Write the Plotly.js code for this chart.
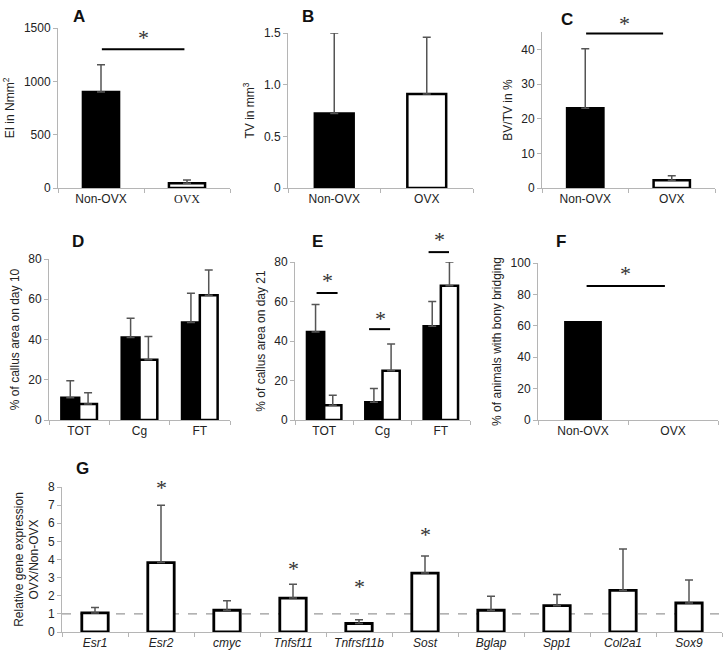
<!DOCTYPE html>
<html>
<head>
<meta charset="utf-8">
<script src="https://cdn.plot.ly/plotly-3.0.1.min.js"></script>
<style>html,body{margin:0;padding:0;background:#fff;}#chart{width:727px;height:662px;}</style>
</head>
<body>
<div id="chart"></div>
<script>
// ---------------- DATA ----------------
const groups = ['Non-OVX', 'OVX'];
const regions = ['TOT', 'Cg', 'FT'];
const genes = ['Esr1', 'Esr2', 'cmyc', 'Tnfsf11', 'Tnfrsf11b', 'Sost', 'Bglap', 'Spp1', 'Col2a1', 'Sox9'];

// A: EI in Nmm2
const eiMean = [900, 45];
const eiErr = [255, 30];
// B: TV in mm3
const tvMean = [0.72, 0.91];
const tvErr = [0.78, 0.55];
// C: BV/TV in %
const bvtvMean = [23, 2.2];
const bvtvErr = [17.2, 1.3];
// D: % callus area day 10
const d10NonOvx = [11, 41, 48.5];
const d10NonOvxErr = [8.5, 9.5, 14.5];
const d10Ovx = [8, 30, 62];
const d10OvxErr = [5.5, 11.5, 12.5];
// E: % callus area day 21
const d21NonOvx = [44.5, 9, 47.5];
const d21NonOvxErr = [14, 7, 12.5];
const d21Ovx = [7.5, 25, 68];
const d21OvxErr = [5, 13.5, 12];
// F: % animals with bony bridging
const bridging = [63, 0];
// G: relative gene expression OVX/Non-OVX
const geneExpr = [1.05, 3.83, 1.2, 1.87, 0.47, 3.25, 1.2, 1.45, 2.3, 1.6];
const geneErr = [0.3, 3.17, 0.53, 0.76, 0.21, 0.95, 0.77, 0.62, 2.28, 1.27];
const refLevel = 1;
const geneSignificant = ['Esr2', 'Tnfsf11', 'Tnfrsf11b', 'Sost'];
const geneStarLevel = [8.0, 3.5, 2.5, 5.4];

// significance brackets: [axis, from, to, lineLevel, starX, starLevel]
const sigA = [0.01, 0.97, 1300, 0.49, 1415];
const sigC = [0.01, 0.90, 44.6, 0.45, 47.5];
const sigE = [
  [-0.13, 0.23, 64.3, 0.05, 70.5],
  [1 - 0.23, 1 + 0.13, 46, 1 - 0.04, 51.5],
  [2 - 0.21, 2 + 0.14, 85, 2 - 0.03, 91.5]
];
const sigF = [0.04, 0.91, 85.4, 0.47, 93];

// ---------------- LAYOUT HELPERS ----------------
const W = 727, H = 662;
const dx = (a, b) => [a / W, b / W];
const dy = (top, bottom) => [1 - bottom / H, 1 - top / H];
const FONT = 'Liberation Sans, Arial, sans-serif';
const AX = '#b5b5b5';
const ERR = '#555555';

function xax(domain, anchor, ticktext, tickvals) {
  const o = {
    domain: domain, anchor: anchor, type: 'category',
    showline: true, linecolor: AX, linewidth: 1, mirror: false,
    ticks: 'outside', ticklen: 4, tickcolor: AX, tickson: 'boundaries',
    showgrid: false, zeroline: false, fixedrange: true,
    tickfont: {family: FONT, size: 12, color: '#222'}
  };
  if (ticktext) { o.tickmode = 'array'; o.tickvals = tickvals; o.ticktext = ticktext; }
  return o;
}
function yax(domain, anchor, range, tickvals, ticktext, title) {
  return {
    domain: domain, anchor: anchor, range: range,
    tickmode: 'array', tickvals: tickvals, ticktext: ticktext || tickvals.map(String),
    showline: true, linecolor: AX, linewidth: 1,
    ticks: 'outside', ticklen: 4, tickcolor: AX,
    showgrid: false, zeroline: false, fixedrange: true,
    tickfont: {family: FONT, size: 12, color: '#222'},
    title: {text: title, font: {family: FONT, size: 12, color: '#222'}, standoff: 6}
  };
}
function errBars(arr) {
  return {type: 'data', symmetric: false, array: arr, arrayminus: arr.map(() => 0),
          color: ERR, thickness: 1.5, width: 4};
}
const pairColors = ['#000000', '#ffffff'];

const traces = [
  {type: 'bar', x: groups, y: eiMean, xaxis: 'x', yaxis: 'y', width: 0.42,
   marker: {color: pairColors, line: {color: '#000', width: 2.5}}, error_y: errBars(eiErr)},
  {type: 'bar', x: groups, y: tvMean, xaxis: 'x2', yaxis: 'y2', width: 0.42,
   marker: {color: pairColors, line: {color: '#000', width: 2.5}}, error_y: errBars(tvErr)},
  {type: 'bar', x: groups, y: bvtvMean, xaxis: 'x3', yaxis: 'y3', width: 0.42,
   marker: {color: pairColors, line: {color: '#000', width: 2.5}}, error_y: errBars(bvtvErr)},
  {type: 'bar', x: regions, y: d10NonOvx, xaxis: 'x4', yaxis: 'y4', name: 'Non-OVX',
   marker: {color: '#000', line: {color: '#000', width: 2.5}}, error_y: errBars(d10NonOvxErr)},
  {type: 'bar', x: regions, y: d10Ovx, xaxis: 'x4', yaxis: 'y4', name: 'OVX',
   marker: {color: '#fff', line: {color: '#000', width: 2.5}}, error_y: errBars(d10OvxErr)},
  {type: 'bar', x: regions, y: d21NonOvx, xaxis: 'x5', yaxis: 'y5', name: 'Non-OVX',
   marker: {color: '#000', line: {color: '#000', width: 2.5}}, error_y: errBars(d21NonOvxErr)},
  {type: 'bar', x: regions, y: d21Ovx, xaxis: 'x5', yaxis: 'y5', name: 'OVX',
   marker: {color: '#fff', line: {color: '#000', width: 2.5}}, error_y: errBars(d21OvxErr)},
  {type: 'bar', x: groups, y: bridging, xaxis: 'x6', yaxis: 'y6', width: 0.42,
   marker: {color: '#000', line: {width: 0}}},
  {type: 'bar', x: genes, y: geneExpr, xaxis: 'x7', yaxis: 'y7', width: 0.4,
   marker: {color: '#fff', line: {color: '#000', width: 2.8}}, error_y: errBars(geneErr)}
];

const yRanges = {y: 1500, y3: 45, y5: 80, y6: 100, y7: 8};

const shapes = [];
const annotations = [];
function bracket(xa, ya, s) {
  const max = yRanges[ya];
  shapes.push({type: 'line', xref: xa, yref: ya + ' domain', x0: s[0], x1: s[1],
               y0: s[2] / max, y1: s[2] / max, line: {color: '#000', width: 2}});
  star(xa, ya, s[3], s[4]);
}
function star(xa, ya, x, level) {
  annotations.push({xref: xa, yref: ya + ' domain', x: x, y: level / yRanges[ya],
    text: '*', showarrow: false, xanchor: 'center', yanchor: 'middle',
    font: {family: 'Liberation Serif, serif', size: 22, color: '#333'}});
}
bracket('x', 'y', sigA);
bracket('x3', 'y3', sigC);
sigE.forEach(s => bracket('x5', 'y5', s));
bracket('x6', 'y6', sigF);
geneSignificant.forEach((g, i) => star('x7', 'y7', genes.indexOf(g), geneStarLevel[i]));

shapes.push({type: 'line', xref: 'x7 domain', yref: 'y7', x0: 0, x1: 1, y0: refLevel, y1: refLevel,
             line: {color: '#999', width: 1.2, dash: 'dash'}, layer: 'below'});

const letters = [['A', 79, 17], ['B', 308, 17], ['C', 567, 19], ['D', 78, 242],
                 ['E', 317, 242], ['F', 561, 242], ['G', 82, 468]];
letters.forEach(l => annotations.push({xref: 'paper', yref: 'paper', x: l[1] / W, y: 1 - l[2] / H,
  text: '<b>' + l[0] + '</b>', showarrow: false, xanchor: 'center', yanchor: 'middle',
  font: {family: FONT, size: 17, color: '#111'}}));

const layout = {
  width: W, height: H, margin: {l: 0, r: 0, t: 0, b: 0},
  paper_bgcolor: '#fff', plot_bgcolor: 'rgba(0,0,0,0)',
  showlegend: false, barmode: 'group', bargap: 0.41, bargroupgap: 0,
  font: {family: FONT, color: '#222'},
  xaxis: xax(dx(58, 230), 'y', ['Non-OVX', '<span style="font-family:Liberation Serif, serif">OVX</span>'], groups),
  yaxis: yax(dy(28, 188), 'x', [0, 1500], [0, 500, 1000, 1500], null, 'EI in Nmm<sup>2</sup>'),
  xaxis2: xax(dx(288, 473), 'y2'),
  yaxis2: yax(dy(33, 188), 'x2', [0, 1.5], [0, 0.5, 1, 1.5], ['0', '0.5', '1.0', '1.5'], 'TV in mm<sup>3</sup>'),
  xaxis3: xax(dx(542, 715), 'y3'),
  yaxis3: yax(dy(32, 188), 'x3', [0, 45], [0, 10, 20, 30, 40], null, 'BV/TV in %'),
  xaxis4: xax(dx(49, 230), 'y4'),
  yaxis4: yax(dy(259, 420), 'x4', [0, 80], [0, 20, 40, 60, 80], null, '% of callus area on day 10'),
  xaxis5: xax(dx(295, 470), 'y5'),
  yaxis5: yax(dy(262, 420), 'x5', [0, 80], [0, 20, 40, 60, 80], null, '% of callus area on day 21'),
  xaxis6: xax(dx(538, 718), 'y6'),
  yaxis6: yax(dy(263, 420), 'x6', [0, 100], [0, 20, 40, 60, 80, 100], null, '% of animals with bony bridging'),
  xaxis7: xax(dx(62, 722), 'y7', genes.map(g => '<i>' + g + '</i>'), genes),
  yaxis7: yax(dy(487, 632), 'x7', [0, 8], [0, 1, 2, 3, 4, 5, 6, 7, 8], null, 'Relative gene expression<br>OVX/Non-OVX'),
  shapes: shapes,
  annotations: annotations
};

Plotly.newPlot('chart', traces, layout, {displayModeBar: false, staticPlot: true});
</script>
</body>
</html>
